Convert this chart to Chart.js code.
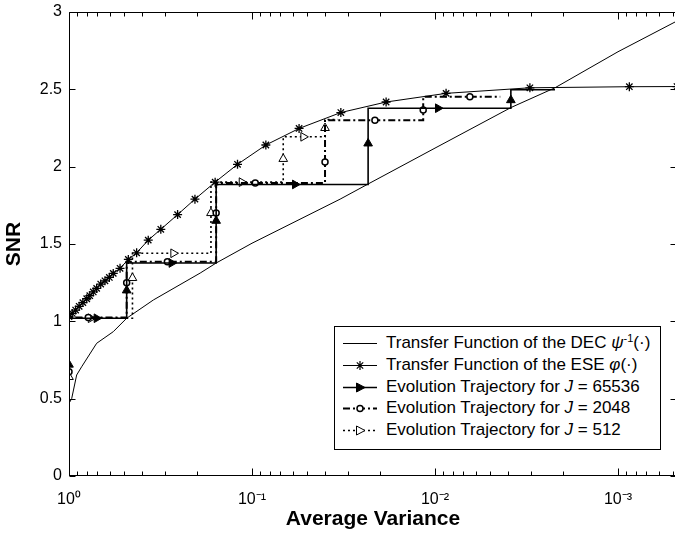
<!DOCTYPE html>
<html>
<head>
<meta charset="utf-8">
<script src="https://cdn.jsdelivr.net/npm/chart.js@4.4.1/dist/chart.umd.min.js"></script>
<style>
html,body{margin:0;padding:0;background:#fff;overflow:hidden;width:675px;height:537px;}
#wrap{position:relative;width:675px;height:537px;overflow:hidden;}
#c{position:absolute;left:0;top:0;}
#legend{position:absolute;left:334px;top:326px;width:327px;height:124px;border:1px solid #000;background:#fff;box-sizing:border-box;font-family:"Liberation Sans",Arial,sans-serif;font-size:17px;color:#000;}
.row{position:absolute;left:0;height:22px;line-height:22px;white-space:nowrap;width:320px;}
.row svg{position:absolute;left:8px;top:0;}
.row span{position:absolute;left:51px;top:0;}
.row sup{font-size:11px;vertical-align:6px;line-height:0;}
</style>
</head>
<body>
<div id="wrap">
<canvas id="c" width="677" height="537" style="width:677px;height:537px"></canvas>
<div id="legend">
  <div class="row" style="top:5px"><svg width="34" height="22"><line x1="0" y1="11.5" x2="34" y2="11.5" stroke="#000" stroke-width="1"/></svg><span>Transfer Function of the DEC <i>ψ</i><sup>-1</sup>(·)</span></div>
  <div class="row" style="top:27px"><svg width="34" height="22"><line x1="0" y1="11.5" x2="34" y2="11.5" stroke="#000" stroke-width="1"/><path d="M12.5 11.5H21.5M17 7V16M13.8 8.3L20.2 14.7M20.2 8.3L13.8 14.7" stroke="#000" stroke-width="1.2"/></svg><span>Transfer Function of the ESE <i>φ</i>(·)</span></div>
  <div class="row" style="top:49px"><svg width="34" height="22"><line x1="0" y1="11.5" x2="34" y2="11.5" stroke="#000" stroke-width="1.5"/><polygon points="22,11.5 13.5,7 13.5,16" fill="#000" stroke="#000"/></svg><span>Evolution Trajectory for <i>J</i> = 65536</span></div>
  <div class="row" style="top:70px"><svg width="34" height="22"><line x1="0" y1="11.5" x2="34" y2="11.5" stroke="#000" stroke-width="2" stroke-dasharray="7,3,2,3"/><circle cx="17" cy="11.5" r="3" fill="#fff" stroke="#000" stroke-width="1.5"/></svg><span>Evolution Trajectory for <i>J</i> = 2048</span></div>
  <div class="row" style="top:92px"><svg width="34" height="22"><line x1="0" y1="11.5" x2="34" y2="11.5" stroke="#000" stroke-width="1.5" stroke-dasharray="2,3"/><polygon points="22,11.5 13.5,7 13.5,16" fill="#fff" stroke="#000"/></svg><span>Evolution Trajectory for <i>J</i> = 512</span></div>
</div>
</div>
<script>
// ---- axis ticks ----
const xMajorTicks = [1, 0.1, 0.01, 0.001];
const xTickLabels = ['10\u2070', '10\u207B\u00B9', '10\u207B\u00B2', '10\u207B\u00B3'];
const yTickValues = [0, 0.5, 1, 1.5, 2, 2.5, 3];
const yTickLabels = ['0', '0.5', '1', '1.5', '2', '2.5', '3'];

// ---- DEC transfer function psi^-1 ----
const decX = [1, 0.967, 0.908, 0.853, 0.706, 0.573, 0.484, 0.346, 0.192, 0.157, 0.1, 0.033, 0.0232, 0.01, 0.00385, 0.00221, 0.001, 0.000476];
const decY = [0.47, 0.50, 0.653, 0.706, 0.858, 0.933, 1.02, 1.138, 1.312, 1.377, 1.505, 1.79, 1.888, 2.12, 2.382, 2.51, 2.743, 2.942];

// ---- ESE transfer function phi ----
const eseX = [1.0, 0.96, 0.92, 0.88, 0.84, 0.80, 0.77, 0.737, 0.706, 0.671, 0.636, 0.602, 0.573, 0.526, 0.474, 0.427, 0.369, 0.315, 0.255, 0.205, 0.159, 0.120, 0.084, 0.0553, 0.0327, 0.0185, 0.0087, 0.00303, 0.000867, 0.000476];
const eseY = [1.03, 1.051, 1.073, 1.097, 1.121, 1.146, 1.166, 1.19, 1.213, 1.241, 1.262, 1.284, 1.31, 1.343, 1.40, 1.443, 1.525, 1.595, 1.69, 1.79, 1.90, 2.015, 2.14, 2.247, 2.35, 2.418, 2.474, 2.51, 2.517, 2.518];

// ---- trajectory J = 65536 ----
const j65536X = [1, 1, 0.484, 0.484, 0.157, 0.157, 0.0232, 0.0232, 0.00385, 0.00385, 0.00221];
const j65536Y = [0, 1.02, 1.02, 1.377, 1.377, 1.885, 1.885, 2.378, 2.378, 2.497, 2.497];
const j65536MarkX = [1, 0.706, 0.484, 0.275, 0.157, 0.0582, 0.0232, 0.00963, 0.00385];
const j65536MarkY = [0.72, 1.02, 1.2, 1.377, 1.65, 1.885, 2.15, 2.378, 2.43];

// ---- trajectory J = 2048 ----
const j2048X = [1, 1, 0.484, 0.484, 0.157, 0.157, 0.0399, 0.0399, 0.0116, 0.0116, 0.0044];
const j2048Y = [0, 1.025, 1.025, 1.385, 1.385, 1.895, 1.895, 2.30, 2.30, 2.452, 2.452];
const j2048MarkX = [1, 0.785, 0.484, 0.29, 0.157, 0.096, 0.0399, 0.0213, 0.0116, 0.00645];
const j2048MarkY = [0.674, 1.025, 1.25, 1.385, 1.7, 1.895, 2.03, 2.30, 2.366, 2.452];

// ---- trajectory J = 512 ----
const j512X = [1, 1, 0.45, 0.45, 0.1676, 0.1676, 0.0675, 0.0675, 0.0399, 0.0399, 0.034];
const j512Y = [0, 1.02, 1.02, 1.44, 1.44, 1.90, 1.90, 2.193, 2.193, 2.305, 2.305];
const j512MarkX = [1, 0.76, 0.45, 0.269, 0.1676, 0.1138, 0.0675, 0.0524, 0.0399];
const j512MarkY = [0.64, 1.02, 1.28, 1.44, 1.70, 1.90, 2.05, 2.193, 2.25];

const X_MIN = 0.000476, X_MAX = 1;

function pts(xs, ys) { return xs.map((x, i) => ({x: x, y: ys[i]})); }
// marker direction: up on vertical path segments, right on horizontal ones
function rotations(px, py, mx, my) {
  return mx.map((x, i) => {
    const y = my[i];
    for (let k = 0; k < px.length - 1; k++) {
      if (px[k] === px[k + 1] && Math.abs(px[k] - x) < 1e-12 &&
          y >= Math.min(py[k], py[k + 1]) - 1e-9 && y <= Math.max(py[k], py[k + 1]) + 1e-9) return 0;
    }
    return 90;
  });
}
function pathSet(xs, ys, extra) {
  return Object.assign({data: pts(xs, ys), showLine: true, pointRadius: 0, borderColor: '#000',
    backgroundColor: '#000', tension: 0, fill: false}, extra);
}
function markSet(xs, ys, extra) {
  return Object.assign({data: pts(xs, ys), showLine: false, borderColor: '#000'}, extra);
}

const FONT = '"Liberation Sans", Arial, sans-serif';

const framePlugin = {
  id: 'frame',
  afterDraw(chart) {
    const ctx = chart.ctx, a = chart.chartArea, xs = chart.scales.x, ys = chart.scales.y;
    const L = Math.round(a.left) + 0.5, R = Math.round(a.right) - 0.5;
    const T = Math.round(a.top) + 0.5, B = Math.round(a.bottom) - 0.5;
    ctx.save();
    ctx.strokeStyle = '#000';
    ctx.lineWidth = 1;
    ctx.beginPath();
    ctx.rect(L, T, R - L, B - T);
    for (let e = 0; e >= -4; e--) {
      for (let k = 1; k <= 9; k++) {
        const v = k * Math.pow(10, e);
        if (v < X_MIN * 0.999 || v > X_MAX * 1.001) continue;
        const p = Math.round(xs.getPixelForValue(v)) + 0.5;
        const len = k === 1 ? 7 : 4;
        ctx.moveTo(p, B); ctx.lineTo(p, B - len);
        ctx.moveTo(p, T); ctx.lineTo(p, T + len);
      }
    }
    yTickValues.forEach(v => {
      const p = Math.round(ys.getPixelForValue(v)) + 0.5;
      ctx.moveTo(L, p); ctx.lineTo(L + 6, p);
      ctx.moveTo(R, p); ctx.lineTo(R - 6, p);
    });
    ctx.stroke();
    ctx.restore();
  }
};

new Chart(document.getElementById('c'), {
  type: 'scatter',
  data: {
    datasets: [
      markSet(j65536MarkX, j65536MarkY, {pointStyle: 'triangle', pointRadius: 5, pointBackgroundColor: '#000',
        pointBorderColor: '#000', pointBorderWidth: 1, pointRotation: rotations(j65536X, j65536Y, j65536MarkX, j65536MarkY)}),
      pathSet(j65536X, j65536Y, {borderWidth: 1.6}),
      markSet(j2048MarkX, j2048MarkY, {pointStyle: 'circle', pointRadius: 3, pointBackgroundColor: '#fff',
        pointBorderColor: '#000', pointBorderWidth: 1.5}),
      pathSet(j2048X, j2048Y, {borderWidth: 2, borderDash: [7, 3, 2, 3]}),
      markSet(j512MarkX, j512MarkY, {pointStyle: 'triangle', pointRadius: 5, pointBackgroundColor: '#fff',
        pointBorderColor: '#000', pointBorderWidth: 1, pointRotation: rotations(j512X, j512Y, j512MarkX, j512MarkY)}),
      pathSet(j512X, j512Y, {borderWidth: 1.6, borderDash: [2, 3]}),
      pathSet(eseX, eseY, {borderWidth: 1, pointStyle: 'star', pointRadius: 4.5, pointBorderColor: '#000',
        pointBorderWidth: 1.3}),
      pathSet(decX, decY, {borderWidth: 1})
    ]
  },
  options: {
    responsive: false,
    devicePixelRatio: 1,
    animation: false,
    events: [],
    layout: {autoPadding: false, padding: {top: 12, right: 0, bottom: 0, left: 0}},
    plugins: {legend: {display: false}, tooltip: {enabled: false}},
    scales: {
      x: {
        type: 'logarithmic', reverse: true, min: X_MIN, max: X_MAX,
        grid: {display: false, drawTicks: false}, border: {display: false},
        afterBuildTicks: s => { s.ticks = xMajorTicks.map(v => ({value: v, major: true})); },
        afterFit: s => { s.height = 61; s.paddingLeft = 0; s.paddingRight = 0; s.paddingTop = 0; s.paddingBottom = 0; },
        ticks: {autoSkip: false, maxRotation: 0, minRotation: 0, padding: 14, color: '#000',
          font: {family: FONT, size: 16},
          callback: (v, i) => xTickLabels[i]},
        title: {display: true, text: 'Average Variance', color: '#000',
          font: {family: FONT, size: 21, weight: 'bold'}, padding: {top: 0, bottom: 5}}
      },
      y: {
        type: 'linear', min: 0, max: 3,
        grid: {display: false, drawTicks: false}, border: {display: false},
        afterBuildTicks: s => { s.ticks = yTickValues.map(v => ({value: v})); },
        afterFit: s => { s.width = 69; s.paddingLeft = 0; s.paddingRight = 0; s.paddingTop = 0; s.paddingBottom = 0; },
        ticks: {padding: 7, color: '#000', font: {family: FONT, size: 16},
          callback: (v, i) => yTickLabels[i]},
        title: {display: true, text: 'SNR', color: '#000',
          font: {family: FONT, size: 21, weight: 'bold'}, padding: {top: 2, bottom: 0}}
      }
    }
  },
  plugins: [framePlugin]
});
</script>
</body>
</html>
